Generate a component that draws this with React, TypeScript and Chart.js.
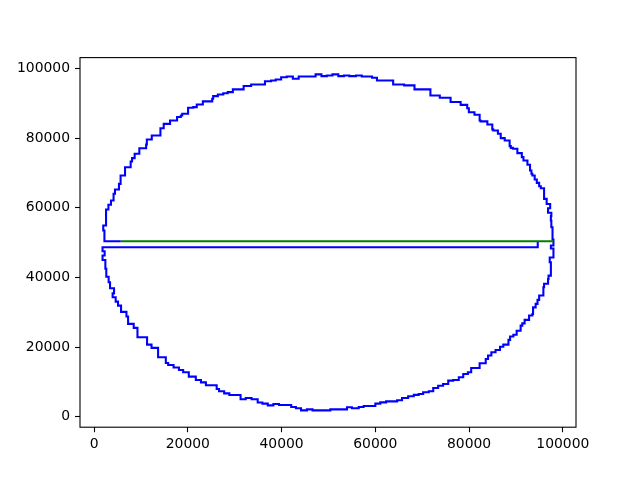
import { useEffect, useRef } from 'react';
import { Chart, registerables } from 'chart.js';

Chart.register(...registerables);

// Tick labels
const xTicks = [0, 20000, 40000, 60000, 80000, 100000];
const yTicks = [0, 20000, 40000, 60000, 80000, 100000];

// Blue stepped outline (each point is reached by a horizontal then a vertical move)
const blueX = [
  94650, 94650, 1800,
  1800, 2250, 1800, 2400, 2600, 3100, 3400, 4250, 3950, 4600, 5100, 5750, 6900, 7250, 8450, 9250,
  11300, 12250, 13650, 15300, 15800, 16950, 18100, 19000, 20200, 21700, 22800, 23850, 26150, 26650,
  27750, 28850, 31250, 32350, 33600, 34900,
  35900, 37050, 38250, 39450, 42050, 43050, 44150, 45400, 46600, 50400, 53950, 55000, 56450, 57500,
  60000, 61050, 62300, 64650, 65700, 67000, 68200, 69250,
  70200, 71400, 72350, 73400, 74450, 75550, 76600, 77800, 78750, 79750, 80450, 82250, 83550, 84050,
  84750, 85650, 86600, 87300, 88400, 88750, 89450, 90150, 91000, 91350, 91850, 92800, 93500, 93650,
  94200, 94600, 94950, 95850, 96000, 96850, 96950, 97450, 97200, 98000, 97450, 98000,
  97800, 97550, 97450, 97550, 96850, 97300, 96550, 96000, 95300, 94950, 94450, 94000, 93500, 93300,
  93000, 92450, 91600, 91250, 90300, 89350, 88900, 88650, 87600, 86750, 86150, 85150, 84950, 83900,
  82450, 82250, 81150, 79950, 79600, 78200, 76050, 73750, 71750, 68350,
  66150, 63800, 60350, 59300, 57100, 55850, 54450, 53300, 52100, 50850, 49650, 48500, 47250, 43650,
  42400, 41100, 39900, 38750, 37750, 36450,
  33500, 31900, 29600, 28500, 27550, 26400, 25400, 25200, 23200, 21900, 21150, 20050, 18800, 18500,
  17700, 16200, 14850, 14150, 12300, 11250, 11100, 9650, 8650, 8100, 7800, 6600, 5650, 5300,
  4450, 4150, 3600, 3050, 2550, 1950, 2200, 5700,
];
const blueY = [
  50400, 48650, 48650,
  47500, 46300, 45000, 42500, 40200, 38600, 36900, 35400, 34300, 33050, 31900, 30100, 28750, 26650, 25500, 22800,
  20700, 19750, 17050, 15400, 14850, 14100, 13400, 12750, 11500, 10550, 9850, 9000, 7950, 7300,
  6700, 6200, 5000, 5350, 5000, 4050,
  3750, 3250, 3650, 3350, 2800, 2400, 1800, 2100, 1800, 2100, 2700, 2400, 2800, 3050,
  3750, 4100, 4400, 4700, 5350, 5850, 6250, 6500,
  7000, 7300, 8250, 8900, 9400, 10350, 10550, 11300, 12250, 12750, 14000, 15350, 16550, 17550,
  18500, 19150, 20100, 20700, 22050, 23000, 23550, 24700, 26150, 26800, 27800, 29050, 29500, 31400,
  32400, 33550, 34800, 37150, 38150, 39550, 40500, 44350, 45700, 48300, 49150, 50900,
  54400, 56350, 57600, 58550, 59850, 61100, 62550, 65600, 66200, 67150, 68100, 69250, 69750, 70700,
  72350, 73550, 74550, 75700, 76950, 77200, 77700, 79300, 80000, 81250, 82200, 82500, 83900, 84800,
  85050, 86700, 87450, 88600, 89550, 90350, 91600, 92250, 94000, 95150,
  95400, 96550, 97350, 97700, 98000, 97800, 98000, 97800, 98300, 98000, 97800, 98300, 97700, 97050,
  97700, 97500, 96850, 96550, 96350, 95400,
  94950, 94000, 93200, 92900, 92550, 92050, 91300, 90550, 89650, 88900, 88700, 87000, 86500, 86050,
  85050, 84100, 82850, 80750, 79600, 78150, 77100, 75500, 74250, 73300, 71650, 69250, 66850, 65250,
  64000, 62100, 60850, 59500, 54900, 53450, 50400, 50400,
];

// Green line
const greenX = [5700, 98000];
const greenY = [50400, 50400];

const X_MIN = -3010;
const X_MAX = 102810;
const Y_MIN = -3025;
const Y_MAX = 103125;

const FONT = { family: 'DejaVu Sans', size: 13.9 };

const framePlugin = {
  id: 'frame',
  afterDatasetsDraw(chart: any) {
    const { ctx, chartArea } = chart;
    ctx.save();
    ctx.strokeStyle = '#000';
    ctx.lineWidth = 1.1;
    ctx.strokeRect(chartArea.left, chartArea.top, chartArea.right - chartArea.left, chartArea.bottom - chartArea.top);
    ctx.restore();
  },
};

export default function App() {
  const ref = useRef<HTMLCanvasElement | null>(null);

  useEffect(() => {
    if (!ref.current) return;
    const blue = blueX.map((x, i) => ({ x, y: blueY[i] }));
    const green = greenX.map((x, i) => ({ x, y: greenY[i] }));
    const chart = new Chart(ref.current, {
      type: 'scatter',
      data: {
        datasets: [
          {
            data: green,
            showLine: true,
            borderColor: '#008000',
            borderWidth: 2.08,
            pointRadius: 0,
            pointHoverRadius: 0,
            fill: false,
          },
          {
            data: blue,
            showLine: true,
            stepped: true,
            borderColor: '#0000ff',
            borderWidth: 2.08,
            pointRadius: 0,
            pointHoverRadius: 0,
            fill: false,
          },
        ],
      } as any,
      options: {
        responsive: false,
        maintainAspectRatio: false,
        animation: false,
        events: [],
        layout: { padding: { left: 0, right: 64, top: 57.6, bottom: 0 } },
        plugins: { legend: { display: false }, tooltip: { enabled: false } },
        scales: {
          x: {
            type: 'linear',
            min: X_MIN,
            max: X_MAX,
            afterBuildTicks: (axis: any) => {
              axis.ticks = xTicks.map((value) => ({ value }));
            },
            afterFit: (axis: any) => {
              axis.height = 52.8;
            },
            grid: { drawOnChartArea: false, drawTicks: true, tickLength: 5, tickColor: '#000', tickWidth: 1.1 },
            border: { display: false },
            ticks: {
              color: '#000',
              font: FONT,
              padding: 4,
              maxRotation: 0,
              autoSkip: false,
              callback: (v: any) => String(v),
            },
          },
          y: {
            type: 'linear',
            min: Y_MIN,
            max: Y_MAX,
            afterBuildTicks: (axis: any) => {
              axis.ticks = yTicks.map((value) => ({ value }));
            },
            afterFit: (axis: any) => {
              axis.width = 80;
            },
            grid: { drawOnChartArea: false, drawTicks: true, tickLength: 5, tickColor: '#000', tickWidth: 1.1 },
            border: { display: false },
            ticks: {
              color: '#000',
              font: FONT,
              padding: 5,
              autoSkip: false,
              callback: (v: any) => String(v),
            },
          },
        },
      } as any,
      plugins: [framePlugin],
    });
    return () => chart.destroy();
  }, []);

  return (
    <div style={{ position: 'absolute', left: 0, top: 0, width: 640, height: 480, background: '#fff' }}>
      <canvas ref={ref} width={640} height={480} style={{ width: 640, height: 480, display: 'block' }} />
    </div>
  );
}
